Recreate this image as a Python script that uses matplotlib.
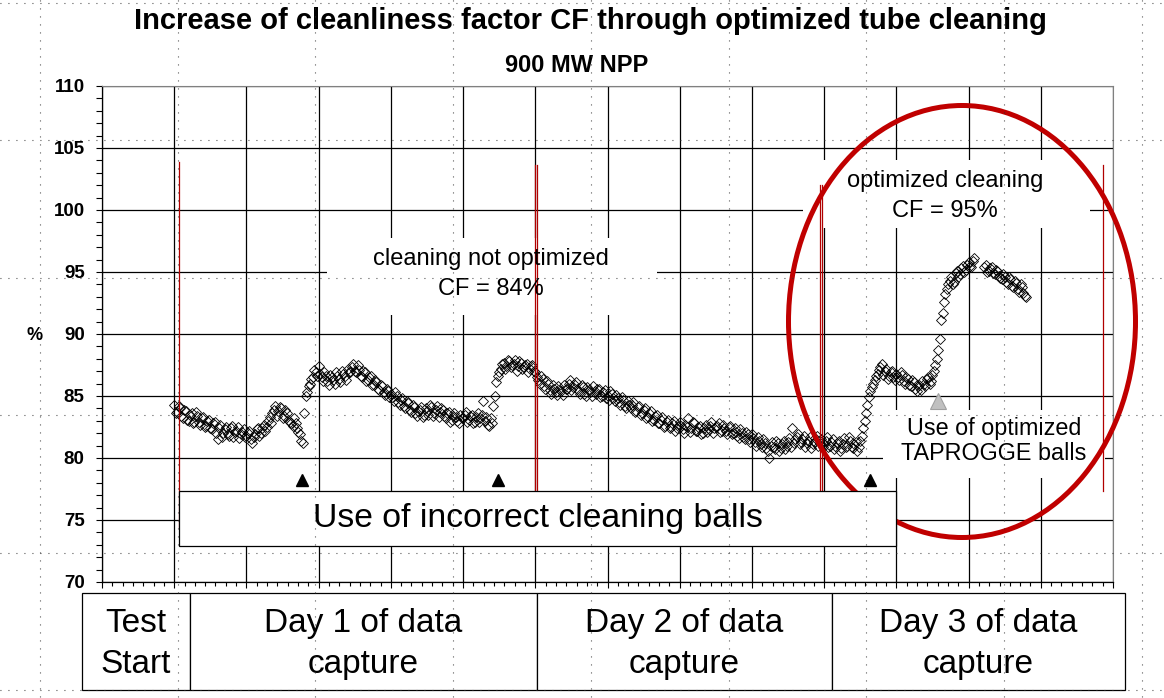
import numpy as np
import matplotlib
matplotlib.use("Agg")
import matplotlib.pyplot as plt
from matplotlib.patches import Rectangle, Ellipse
from matplotlib.lines import Line2D
from matplotlib.transforms import Affine2D
from matplotlib.ticker import MultipleLocator

plt.rcParams['font.family'] = ['Liberation Sans', 'DejaVu Sans']

# ---- data -------------------------------------------------------------
# cleanliness factor readings, time in grid units.
# two logged channels, the second one sampled half a step later
t_start = 1.0
t_step = 0.04
cf_values = [
    84.3, 83.7, 84.0, 83.2, 83.8, 83.0, 83.6, 82.9, 83.4, 82.7, 83.3, 82.6, 83.1,
    82.3, 82.9, 81.5, 82.7, 82.0, 82.5, 81.8, 82.6, 82.1, 82.5, 81.9, 82.3,
    81.8, 82.2, 81.2, 81.9, 82.4, 82.0, 82.7, 82.5, 83.3, 83.6, 84.2, 83.8, 84.0,
    83.4, 83.6, 82.9, 82.6, 82.8, 82.1, 81.4, 83.6, 85.3, 86.0, 86.5, 86.9,
    87.4, 86.5, 86.9, 86.2, 86.7, 86.3, 86.9, 86.4, 87.0, 86.6, 87.2, 86.9, 87.6,
    86.9, 87.1, 86.5, 86.9, 86.3, 86.6, 85.9, 86.1, 85.5, 85.8, 85.1, 85.4,
    85.2, 84.6, 85.0, 84.3, 84.8, 84.0, 84.4, 83.7, 84.1, 83.4, 83.9, 83.3, 84.0,
    83.5, 84.1, 83.6, 84.2, 83.7, 83.9, 83.2, 83.7, 83.1, 83.6, 83.0, 83.5,
    83.2, 83.7, 83.1, 83.5, 82.9, 83.6, 83.2, 84.6, 83.3, 82.6, 82.8, 85.0, 86.6,
    87.2, 87.7, 87.4, 87.8, 87.5, 87.9, 87.4, 87.7, 87.3, 87.6, 87.2, 87.5,
    86.9, 86.3, 86.6, 85.8, 86.2, 85.5, 85.9, 85.3, 85.8, 85.4, 85.9, 85.6, 86.3,
    85.7, 86.1, 85.4, 85.9, 85.2, 85.7, 85.3, 85.8, 85.2, 85.6, 85.0, 85.5,
    85.0, 85.4, 84.8, 85.1, 84.5, 84.9, 84.2, 84.6, 84.0, 84.5, 83.8, 84.2, 83.6,
    84.0, 83.3, 83.8, 83.1, 83.5, 82.8, 83.3, 82.6, 83.1, 82.5, 83.0, 82.4,
    82.9, 82.3, 82.7, 83.2, 82.4, 82.8, 82.2, 82.6, 82.0, 82.7, 82.3, 82.9, 82.4,
    82.6, 82.1, 82.7, 82.2, 82.5, 81.9, 82.4, 81.8, 82.3, 81.7, 82.1, 81.5,
    81.9, 81.3, 81.7, 81.1, 81.5, 80.8, 80.0, 81.3, 80.7, 81.2, 80.8, 81.4, 81.0,
    81.6, 82.4, 81.5, 81.9, 81.3, 81.8, 81.2, 81.7, 81.1, 81.6, 81.0, 81.5,
    81.1, 81.7, 81.0, 81.5, 80.9, 81.4, 80.8, 81.6, 81.0, 81.4, 80.8, 81.3, 80.9,
    81.8, 83.0, 84.3, 85.4, 86.0, 86.6, 87.1, 87.6, 87.0, 86.4, 86.9, 86.5,
    86.8, 86.3, 86.7, 86.0, 86.4, 85.8, 86.1, 85.4, 85.9, 86.2, 85.8, 86.5, 86.2,
    87.0, 88.0, 89.6, 91.7, 93.2, 94.0, 94.6, 94.2, 95.1, 94.8, 95.5, 95.2,
    95.8, 95.4, 96.1, np.nan, np.nan, np.nan, 95.6, 95.1, 95.4, 94.8, 95.1, 94.5,
    94.8, 94.2, 94.6, 93.9, 94.3, 93.6, 94.0, 93.3, 93.0,
]
cf_values_b = [
    83.6, 84.2, 83.4, 83.9, 83.1, 83.5, 82.8, 83.7, 82.9, 83.2, 82.5, 83.0, 82.4,
    82.8, 82.0, 82.4, 81.7, 82.3, 81.9, 82.4, 81.7, 82.2, 81.6, 82.1, 81.7,
    82.0, 81.5, 81.7, 82.3, 81.8, 82.4, 82.2, 83.0, 82.8, 83.9, 83.4, 84.1, 83.2,
    83.9, 83.1, 82.8, 83.2, 82.4, 81.9, 81.2, 85.0, 85.8, 86.4, 87.1, 86.6,
    86.8, 86.2, 86.6, 85.9, 86.5, 86.0, 86.6, 86.1, 86.8, 86.3, 86.9, 87.3, 87.0,
    87.5, 86.6, 87.0, 86.2, 86.5, 85.9, 86.3, 85.6, 85.9, 85.3, 85.6, 84.9,
    84.9, 85.3, 84.5, 84.7, 84.2, 84.6, 83.9, 84.3, 83.6, 83.8, 84.1, 83.5, 83.8,
    84.3, 83.4, 83.9, 83.3, 84.0, 83.4, 83.6, 82.9, 83.4, 83.3, 82.8, 83.2,
    83.5, 82.9, 83.4, 82.8, 83.3, 82.9, 83.5, 83.0, 82.7, 83.2, 84.2, 86.1, 86.9,
    87.6, 87.2, 87.9, 87.3, 87.6, 87.0, 87.8, 87.2, 87.5, 86.9, 87.4, 87.0,
    86.5, 86.0, 86.4, 85.6, 86.0, 85.2, 85.6, 85.1, 85.5, 85.1, 85.6, 86.0, 85.5,
    86.0, 85.6, 85.2, 85.7, 85.0, 85.5, 85.0, 85.4, 85.6, 84.9, 85.3, 84.8,
    84.7, 85.2, 84.6, 84.8, 84.3, 84.7, 84.0, 84.3, 84.3, 83.7, 84.1, 83.5, 83.9,
    83.2, 83.6, 83.0, 83.4, 82.8, 83.1, 82.5, 82.9, 82.4, 82.8, 82.2, 82.6,
    82.6, 82.0, 82.5, 82.1, 82.9, 82.2, 82.5, 81.9, 82.4, 82.1, 82.6, 82.0, 82.5,
    82.8, 82.2, 82.4, 81.9, 82.6, 82.0, 82.1, 81.6, 82.0, 81.5, 81.9, 81.3,
    81.6, 81.0, 81.4, 80.9, 81.2, 80.6, 81.0, 80.9, 81.4, 80.6, 81.1, 80.7, 81.3,
    80.9, 81.2, 81.7, 81.1, 81.5, 80.9, 81.4, 80.8, 81.3, 81.8, 81.2, 80.9,
    81.4, 80.9, 81.3, 80.7, 81.2, 80.6, 81.1, 80.9, 81.7, 80.9, 81.1, 80.6, 81.4,
    82.4, 83.6, 84.9, 85.7, 86.3, 86.8, 87.3, 86.7, 87.2, 86.6, 87.0, 86.3,
    86.5, 86.9, 86.2, 86.5, 85.9, 86.3, 85.6, 85.8, 85.5, 86.0, 86.4, 86.0, 86.7,
    87.5, 88.7, 91.1, 92.6, 93.6, 94.3, 94.0, 94.9, 94.6, 95.3, 95.0, 95.6,
    95.5, 95.9, np.nan, np.nan, np.nan, 95.4, 95.0, 95.3, 94.9, 95.2, 94.7, 94.4,
    94.6, 94.0, 94.4, 93.8, 94.1, 93.4, 93.8, 93.1,
]

# ball change events (black) and start of optimized balls (grey)
event_t = [2.77, 5.48, 10.64]
event_cf = [78.2, 78.2, 78.2]
opt_t = [11.58]
opt_cf = [84.6]

# thin red marker lines
red_t = [1.07, 6.00, 6.03, 9.94, 9.965, 13.86]
red_top = [103.9, 103.6, 103.6, 102.0, 102.0, 103.6]
red_bottom = [74.4, 77.2, 77.2, 77.2, 77.2, 77.3]

y_ticks = [70, 75, 80, 85, 90, 95, 100, 105, 110]
day_labels = ["Test\nStart", "Day 1 of data\ncapture",
              "Day 2 of data\ncapture", "Day 3 of data\ncapture"]

title = "Increase of cleanliness factor CF through optimized tube cleaning"
subtitle = "900 MW NPP"

# ---- figure -----------------------------------------------------------
W, H = 1164, 698
fig = plt.figure(figsize=(W / 100, H / 100), dpi=100)
# pixel coordinates of the picture, origin top left
pix = Affine2D().scale(1.0 / W, -1.0 / H).translate(0, 1) + fig.transFigure

ax = fig.add_axes([102 / W, 1 - 582 / H, (1113 - 102) / W, (582 - 86) / H])

t = t_start + t_step * np.arange(len(cf_values))
t_b = t_start + t_step / 2 + t_step * np.arange(len(cf_values_b))
for tt, vals in [(t, cf_values), (t_b, cf_values_b)]:
    ax.plot(tt, vals, linestyle='none', marker='D', ms=4.6, mfc='none',
            mec='black', mew=0.6, zorder=2)

for x, y0, y1 in zip(red_t, red_bottom, red_top):
    ax.plot([x, x], [y0, y1], color='#b00000', lw=0.9, zorder=2.5)

ax.plot(event_t, event_cf, linestyle='none', marker='^', ms=8,
        color='black', zorder=5)
ax.plot(opt_t, opt_cf, linestyle='none', marker='^', ms=12,
        mfc='#c0c0c0', mec='#a0a0a0', mew=0.8, zorder=5)

# axes look
ax.set_xlim(0, 14)
ax.set_ylim(70, 110)
ax.set_yticks(y_ticks)
ax.set_yticklabels([str(v) for v in y_ticks], fontsize=13.5, fontweight='bold')
ax.yaxis.set_minor_locator(MultipleLocator(1))
ax.xaxis.set_major_locator(MultipleLocator(1))
ax.xaxis.set_minor_locator(MultipleLocator(1 / 7))
ax.tick_params(axis='y', which='both', direction='out', length=4.5, width=0.8, pad=8)
ax.tick_params(axis='x', which='major', direction='out', length=4, width=0.8,
               labelbottom=False)
ax.tick_params(axis='x', which='minor', direction='out', length=3, width=0.8)
ax.set_axisbelow(True)
ax.grid(True, which='major', color='black', lw=0.9)
for s in ['top', 'right']:
    ax.spines[s].set_color('#808080')
for s in ['left', 'bottom']:
    ax.spines[s].set_color('black')
    ax.spines[s].set_linewidth(0.9)

# white text boxes hiding the grid
for (x0, y0, x1, y1) in [(327, 238, 657, 315), (803, 160, 1090, 228),
                         (883, 410, 1105, 478)]:
    ax.add_artist(Rectangle((x0, y0), x1 - x0, y1 - y0, transform=pix,
                            facecolor='white', edgecolor='none', zorder=1,
                            clip_on=False))

ax.text(491, 274, "cleaning not optimized\nCF = 84%", transform=pix,
        ha='center', va='center', fontsize=17, linespacing=1.42, zorder=5)
ax.text(945, 196, "optimized cleaning\nCF = 95%", transform=pix,
        ha='center', va='center', fontsize=17, linespacing=1.42, zorder=5)
ax.text(994, 441, "Use of optimized\nTAPROGGE balls", transform=pix,
        ha='center', va='center', fontsize=16.8, linespacing=1.16, zorder=5)

# red circle round the optimized part
ax.add_artist(Ellipse((962, 321.5), 347, 432, transform=pix, fill=False,
                      edgecolor='#c00000', lw=3.6, zorder=3, clip_on=False))

ax.add_artist(Rectangle((179, 491), 896 - 179, 546 - 491, transform=pix,
                        facecolor='white', edgecolor='black', lw=0.9,
                        zorder=4, clip_on=False))
ax.text(538, 519, "Use of incorrect cleaning balls", transform=pix,
        ha='center', va='center', fontsize=24.3, zorder=5)

# titles
fig.text(590, 21, title, transform=pix, ha='center', va='center',
         fontsize=21, fontweight='bold')
fig.text(577, 65, subtitle, transform=pix, ha='center', va='center',
         fontsize=17, fontweight='bold')
fig.text(35, 335, "%", transform=pix, ha='center', va='center',
         fontsize=13, fontweight='bold')

# day boxes under the chart
day_edges = [82, 190, 537, 832, 1125]
for k, lab in enumerate(day_labels):
    x0, x1 = day_edges[k], day_edges[k + 1]
    fig.add_artist(Rectangle((x0, 593), x1 - x0, 690 - 593, transform=pix,
                             facecolor='white', edgecolor='black', lw=0.9))
    fig.text((x0 + x1) / 2, 644, lab, transform=pix, ha='center',
             va='center', fontsize=24, linespacing=1.41)

# dotted drawing grid of the original slide
for k in range(9):
    x = 40 + 137.7 * k
    fig.add_artist(Line2D([x, x], [0, H], transform=pix, color='#303030',
                          lw=0.8, ls=(0, (0.8, 6.4)), zorder=10))
for k in range(6):
    y = 2.5 + 137.5 * k
    fig.add_artist(Line2D([0, W], [y, y], transform=pix, color='#303030',
                          lw=0.8, ls=(0, (0.8, 6.4)), zorder=10))

fig.savefig("out.png", dpi=100)
